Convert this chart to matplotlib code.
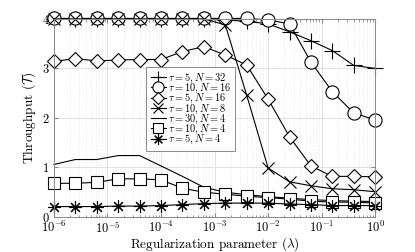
import matplotlib
matplotlib.use("AGG")
import matplotlib.pyplot as plt
import numpy as np

plt.rcParams['font.family'] = 'serif'
plt.rcParams['font.serif'] = ['cmr10']
plt.rcParams['mathtext.fontset'] = 'cm'
plt.rcParams['axes.formatter.use_mathtext'] = True

# regularization parameter exponents (lambda = 10**e)
lam_exp = [-6.0, -5.6, -5.2, -4.8, -4.4, -4.0, -3.6, -3.2,
           -2.8, -2.4, -2.0, -1.6, -1.2, -0.8, -0.4, 0.0]

tau5_n32 = [3.99, 3.99, 3.99, 3.99, 3.99, 3.99, 3.99, 3.99,
            3.98, 3.95, 3.90, 3.74, 3.56, 3.36, 3.06, 3.00]
tau10_n16 = [4.01, 4.01, 4.01, 4.01, 4.01, 4.01, 4.01, 4.01,
             4.01, 4.01, 3.98, 3.90, 3.13, 2.53, 2.10, 1.96]
tau5_n16 = [3.14, 3.20, 3.15, 3.17, 3.18, 3.18, 3.34, 3.44,
            3.27, 3.07, 2.38, 1.62, 1.03, 0.82, 0.82, 0.81]
tau10_n8 = [4.00, 4.00, 4.00, 4.00, 4.00, 4.00, 4.00, 4.00,
            3.88, 2.46, 0.99, 0.71, 0.63, 0.57, 0.55, 0.51]
tau30_n4 = [1.06, 1.16, 1.16, 1.24, 1.24, 1.03, 0.82, 0.60,
            0.50, 0.45, 0.41, 0.38, 0.35, 0.33, 0.32, 0.31]
tau10_n4 = [0.68, 0.68, 0.70, 0.77, 0.77, 0.75, 0.58, 0.50,
            0.46, 0.42, 0.39, 0.36, 0.32, 0.30, 0.30, 0.28]
tau5_n4 = [0.21, 0.21, 0.21, 0.22, 0.22, 0.23, 0.25, 0.27,
           0.28, 0.28, 0.28, 0.26, 0.25, 0.23, 0.23, 0.23]

lam = 10.0 ** np.array(lam_exp)

fig = plt.figure(figsize=(4.15, 2.52), dpi=100)
ax = fig.add_axes([0.130, 0.139, 0.774, 0.786])

style = dict(color='black', lw=0.8, mfc='white', mec='black', mew=0.8, clip_on=False)
ax.plot(lam, tau5_n32, marker='+', ms=11, label=r'$\tau = 5, N = 32$', **style)
ax.plot(lam, tau10_n16, marker='o', ms=9.5, label=r'$\tau = 10, N = 16$', **style)
ax.plot(lam, tau5_n16, marker='D', ms=7.5, label=r'$\tau = 5, N = 16$', **style)
ax.plot(lam, tau10_n8, marker='x', ms=8, label=r'$\tau = 10, N = 8$', **style)
ax.plot(lam, tau30_n4, label=r'$\tau = 30, N = 4$', **style)
ax.plot(lam, tau10_n4, marker='s', ms=8, label=r'$\tau = 10, N = 4$', **style)
ax.plot(lam, tau5_n4, marker=(8, 2, 0), ms=9, label=r'$\tau = 5, N = 4$', **style)

ax.set_xscale('log')
ax.set_xlim(1e-6, 1)
ax.set_ylim(0, 4)
ax.set_yticks([0, 1, 2, 3, 4])
ax.set_xticks([1e-6, 1e-5, 1e-4, 1e-3, 1e-2, 1e-1, 1])

ax.grid(True, which='major', color='#dcdcdc', lw=0.6)
ax.grid(True, which='minor', axis='x', color='#e0e0e0', lw=0.5, ls=':')
ax.set_axisbelow(True)
for s in ax.spines.values():
    s.set_color('#8a8a8a')
    s.set_linewidth(0.7)
ax.tick_params(which='both', direction='in', top=True, right=True,
               color='#8a8a8a', labelsize=9, pad=2)
ax.tick_params(axis='y', pad=3)
ax.tick_params(which='major', length=3)
ax.tick_params(which='minor', length=1.8)

ax.set_xlabel(r'Regularization parameter ($\lambda$)', fontsize=9.5, labelpad=0)
ax.set_ylabel(r'Throughput ($\mathcal{T}$)', fontsize=9.5, labelpad=3)

leg = ax.legend(loc='upper left', bbox_to_anchor=(0.288, 0.755), fontsize=7.5,
                handlelength=1.5, handletextpad=0.15, labelspacing=-0.3,
                borderpad=0.4, borderaxespad=0, fancybox=False, framealpha=1,
                markerscale=0.85)
leg.get_frame().set_edgecolor('#8a8a8a')
leg.get_frame().set_linewidth(0.7)

plt.savefig('out.png', dpi=100)
